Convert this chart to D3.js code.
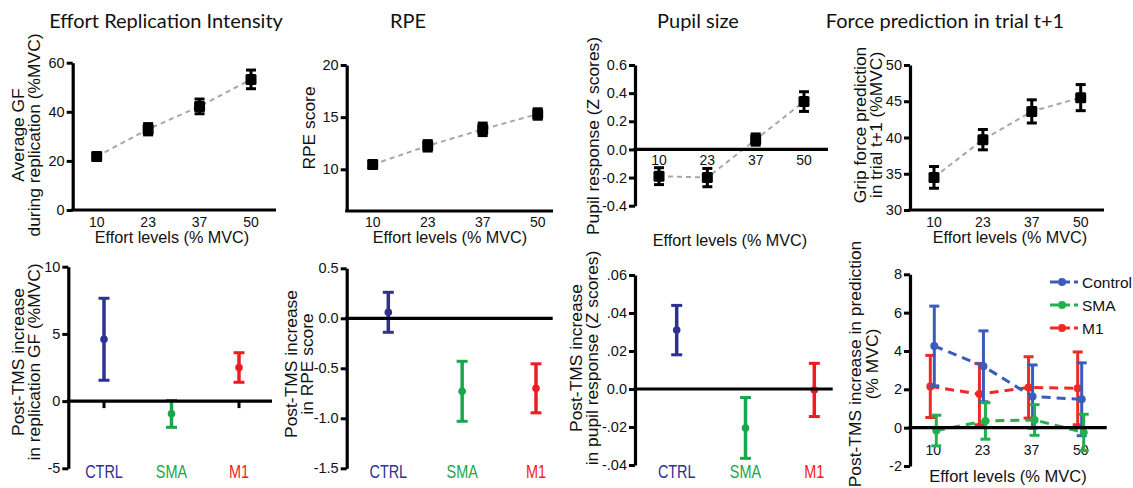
<!DOCTYPE html>
<html>
<head>
<meta charset="utf-8">
<script src="https://cdn.jsdelivr.net/npm/d3@7"></script>
<style>
  body { margin: 0; background: #fff; }
  svg text { font-family: "Liberation Sans", Arial, sans-serif; }
  svg text.title { font-family: Lato, "Open Sans", sans-serif; font-size: 20px; }
</style>
</head>
<body>
<svg id="chart" width="1133" height="488"></svg>
<script>
// effort levels (% MVC)
const effortLevels = ['10', '23', '37', '50'];

// top row: means and SEM
const replicationGF = [21.8, 32.9, 42.2, 53.2];
const replicationErr = [1.5, 2.3, 3.0, 3.8];
const rpeScore = [10.45, 12.25, 13.83, 15.3];
const rpeErr = [0.35, 0.5, 0.6, 0.5];
const pupilZ = [-0.19, -0.2, 0.07, 0.34];
const pupilErr = [0.06, 0.065, 0.04, 0.07];
const gripPred = [34.5, 39.7, 43.6, 45.5];
const gripErr = [1.5, 1.4, 1.6, 1.8];

// bottom row: post-TMS increase per group
const groups = ['CTRL', 'SMA', 'M1'];
const tmsGF = [4.6, -0.95, 2.5];
const tmsGFErr = [3.05, 1.0, 1.1];
const tmsRPE = [0.06, -0.73, -0.70];
const tmsRPEErr = [0.2, 0.3, 0.245];
const tmsPupil = [0.031, -0.0205, -0.0005];
const tmsPupilErr = [0.013, 0.016, 0.014];

// bottom right: prediction increase per effort level
const seriesNames = ['Control', 'SMA', 'M1'];
const predControl = [4.26, 3.2, 1.62, 1.48];
const predControlErr = [2.08, 1.85, 1.65, 1.9];
const predSMA = [-0.15, 0.35, 0.4, -0.25];
const predSMAErr = [0.8, 0.95, 0.8, 0.95];
const predM1 = [2.15, 1.75, 2.1, 2.05];
const predM1Err = [1.62, 1.6, 1.6, 1.9];

const titles = ['Effort Replication Intensity', 'RPE', 'Pupil size', 'Force prediction in trial t+1'];

const groupColors = ['#2e3192', '#1aa64b', '#ed1c24'];
const seriesColors = ['#3a5cbd', '#22b14c', '#ee2a24'];

const svg = d3.select('#chart');

// titles
const titleX = [166, 408, 698, 945];
svg.selectAll('text.title')
  .data(titles)
  .join('text')
    .attr('class', 'title')
    .attr('x', (d, i) => titleX[i])
    .attr('y', 28)
    .attr('text-anchor', 'middle')
    .attr('fill', '#111')
    .text(d => d);

function yAxisDraw(g, y, ticks, labels, x0) {
  const ax = g.append('g')
    .attr('transform', `translate(${x0},0)`)
    .call(d3.axisLeft(y).tickValues(ticks).tickSize(6).tickSizeOuter(0)
      .tickFormat((d, i) => labels[i]));
  ax.select('.domain').attr('stroke-width', 3.2).attr('stroke', '#000');
  ax.selectAll('.tick line').attr('stroke-width', 3).attr('stroke', '#000');
  ax.selectAll('.tick text').attr('font-size', 14.5).attr('fill', '#111').attr('x', -8);
  return ax;
}

function yLabel(lines, x, ycenter, size) {
  lines.forEach((t, i) => {
    svg.append('text')
      .attr('transform', `translate(${x[i]},${ycenter}) rotate(-90)`)
      .attr('text-anchor', 'middle')
      .attr('font-size', size || 17.4)
      .attr('fill', '#111')
      .text(t);
  });
}

function hLine(x1, x2, yv) {
  svg.append('line')
    .attr('x1', x1).attr('x2', x2)
    .attr('y1', yv).attr('y2', yv)
    .attr('stroke', '#000').attr('stroke-width', 3.2);
}

// ---------- top row ----------
function topPanel(cfg) {
  const g = svg.append('g');
  const x = d3.scalePoint().domain(effortLevels).range(cfg.xr);
  const y = d3.scaleLinear().domain(cfg.yd).range(cfg.yr);
  yAxisDraw(g, y, cfg.ticks, cfg.tickLabels, cfg.axisX);
  const baseY = y(cfg.baseline);
  hLine(cfg.axisX - 1.5, cfg.axisEnd, baseY);

  // tick labels on x
  g.selectAll('text.xt')
    .data(effortLevels)
    .join('text')
      .attr('x', d => x(d))
      .attr('y', cfg.xtY)
      .attr('text-anchor', 'middle')
      .attr('font-size', 14)
      .attr('fill', '#111')
      .text(d => d);

  const pts = effortLevels.map((d, i) => ({ k: d, v: cfg.vals[i], e: cfg.errs[i] }));

  g.append('path')
    .datum(pts)
    .attr('fill', 'none')
    .attr('stroke', '#a8a8a8')
    .attr('stroke-width', 2)
    .attr('stroke-dasharray', '5,4')
    .attr('d', d3.line().x(d => x(d.k)).y(d => y(d.v)));

  pts.forEach(p => {
    const cx = x(p.k);
    g.append('line').attr('x1', cx).attr('x2', cx)
      .attr('y1', y(p.v - p.e)).attr('y2', y(p.v + p.e))
      .attr('stroke', '#000').attr('stroke-width', 3);
    [p.v - p.e, p.v + p.e].forEach(c => {
      g.append('line').attr('x1', cx - 5).attr('x2', cx + 5)
        .attr('y1', y(c)).attr('y2', y(c))
        .attr('stroke', '#000').attr('stroke-width', 3);
    });
    g.append('rect')
      .attr('x', cx - 5.5).attr('y', y(p.v) - 5.5)
      .attr('width', 11).attr('height', 11)
      .attr('rx', 1.5)
      .attr('fill', '#000');
  });

  svg.append('text')
    .attr('x', cfg.xtitleX).attr('y', cfg.xtitleY)
    .attr('text-anchor', 'middle')
    .attr('font-size', 16.2)
    .attr('fill', '#111')
    .text('Effort levels (% MVC)');
}

topPanel({
  xr: [96.7, 251], yd: [0, 60], yr: [210, 62.7], axisX: 72.7, axisEnd: 276,
  ticks: [0, 20, 40, 60], tickLabels: ['0', '20', '40', '60'], baseline: 0,
  xtY: 227, xtitleX: 172, xtitleY: 243,
  vals: replicationGF, errs: replicationErr
});
yLabel(['Average GF', 'during replication (%MVC)'], [24, 40], 135);

topPanel({
  xr: [372.7, 537.7], yd: [6, 20], yr: [211, 65], axisX: 346.7, axisEnd: 553,
  ticks: [10, 15, 20], tickLabels: ['10', '15', '20'], baseline: 6,
  xtY: 227, xtitleX: 450, xtitleY: 243,
  vals: rpeScore, errs: rpeErr
});
yLabel(['RPE score'], [315], 128);

topPanel({
  xr: [659, 804], yd: [-0.4, 0.6], yr: [205.7, 65], axisX: 635, axisEnd: 828,
  ticks: [-0.4, -0.2, 0, 0.2, 0.4, 0.6], tickLabels: ['-0.4', '-0.2', '0.0', '0.2', '0.4', '0.6'], baseline: 0,
  xtY: 165, xtitleX: 730, xtitleY: 246,
  vals: pupilZ, errs: pupilErr
});
yLabel(['Pupil response (Z scores)'], [599], 136);

topPanel({
  xr: [934, 1080.7], yd: [30, 50], yr: [210, 65], axisX: 910, axisEnd: 1104,
  ticks: [30, 35, 40, 45, 50], tickLabels: ['30', '35', '40', '45', '50'], baseline: 30,
  xtY: 227, xtitleX: 1010, xtitleY: 243,
  vals: gripPred, errs: gripErr
});
yLabel(['Grip force prediction', 'in trial t+1 (%MVC)'], [866, 882], 125);

// ---------- bottom row, group panels ----------
function groupPanel(cfg) {
  const g = svg.append('g');
  const x = d3.scalePoint().domain(groups).range(cfg.xr);
  const y = d3.scaleLinear().domain(cfg.yd).range(cfg.yr);
  yAxisDraw(g, y, cfg.ticks, cfg.tickLabels, cfg.axisX);
  hLine(cfg.axisX - 1.5, cfg.axisEnd, y(0));

  if (cfg.downTicks) {
    groups.forEach(d => {
      g.append('line').attr('x1', x(d)).attr('x2', x(d))
        .attr('y1', y(0)).attr('y2', y(0) + 7)
        .attr('stroke', '#000').attr('stroke-width', 3);
    });
  }

  // condensed group labels
  g.selectAll('text.cat')
    .data(groups)
    .join('text')
      .attr('class', 'cat')
      .attr('transform', d => `translate(${x(d)},478) scale(0.78,1)`)
      .attr('text-anchor', 'middle')
      .attr('font-size', 18.5)
      .attr('fill', (d, i) => groupColors[i])
      .text(d => d);

  groups.forEach((d, i) => {
    const cx = x(d), v = cfg.vals[i], e = cfg.errs[i], c = groupColors[i];
    g.append('line').attr('x1', cx).attr('x2', cx)
      .attr('y1', y(v - e)).attr('y2', y(v + e))
      .attr('stroke', c).attr('stroke-width', 3.5);
    [v - e, v + e].forEach(t => {
      g.append('line').attr('x1', cx - 5.5).attr('x2', cx + 5.5)
        .attr('y1', y(t)).attr('y2', y(t))
        .attr('stroke', c).attr('stroke-width', 3);
    });
    g.append('circle').attr('cx', cx).attr('cy', y(v)).attr('r', 3.8).attr('fill', c);
  });
}

groupPanel({
  xr: [104, 239], yd: [-5, 10], yr: [468.3, 266.7], axisX: 68.3, axisEnd: 272,
  ticks: [-5, 0, 5, 10], tickLabels: ['-5', '0', '5', '10'], downTicks: true,
  vals: tmsGF, errs: tmsGFErr
});
yLabel(['Post-TMS increase', 'in replication GF (%MVC)'], [24, 40], 362);

groupPanel({
  xr: [388.3, 536], yd: [-1.5, 0.5], yr: [468.3, 268.3], axisX: 346.7, axisEnd: 552.7,
  ticks: [-1.5, -1, -0.5, 0, 0.5], tickLabels: ['-1.5', '-1.0', '-0.5', '0.0', '0.5'], downTicks: false,
  vals: tmsRPE, errs: tmsRPEErr
});
yLabel(['Post-TMS increase', 'in RPE score'], [297, 313], 364);

groupPanel({
  xr: [676.7, 814.3], yd: [-0.04, 0.06], yr: [465, 275], axisX: 635, axisEnd: 832.7,
  ticks: [-0.04, -0.02, 0, 0.02, 0.04, 0.06], tickLabels: ['-.04', '-.02', '0.0', '.02', '.04', '.06'], downTicks: false,
  vals: tmsPupil, errs: tmsPupilErr
});
yLabel(['Post-TMS increase', 'in pupil response (Z scores)'], [582, 598], 358);

// ---------- bottom right: prediction series ----------
(function () {
  const g = svg.append('g');
  const x = d3.scalePoint().domain(effortLevels).range([933.3, 1080.7]);
  const y = d3.scaleLinear().domain([-2, 8]).range([466, 274.3]);
  yAxisDraw(g, y, [-2, 0, 2, 4, 6, 8], ['-2', '0', '2', '4', '6', '8'], 910);
  hLine(908.5, 1106.7, y(0));

  g.selectAll('text.xt')
    .data(effortLevels)
    .join('text')
      .attr('x', d => x(d))
      .attr('y', 455)
      .attr('text-anchor', 'middle')
      .attr('font-size', 14)
      .attr('fill', '#111')
      .text(d => d);

  svg.append('text')
    .attr('x', 1008).attr('y', 482)
    .attr('text-anchor', 'middle')
    .attr('font-size', 16.5)
    .attr('fill', '#111')
    .text('Effort levels (% MVC)');

  const vals = [predControl, predSMA, predM1];
  const errs = [predControlErr, predSMAErr, predM1Err];
  const offs = [1, 3, -3];
  const order = [2, 0, 1];

  order.forEach(s => {
    const pts = effortLevels.map((d, i) => ({ x: x(d) + offs[s], v: vals[s][i], e: errs[s][i] }));
    g.append('path')
      .datum(pts)
      .attr('fill', 'none')
      .attr('stroke', seriesColors[s])
      .attr('stroke-width', 3)
      .attr('stroke-dasharray', '9,6')
      .attr('d', d3.line().x(d => d.x).y(d => y(d.v)));
    pts.forEach(p => {
      g.append('line').attr('x1', p.x).attr('x2', p.x)
        .attr('y1', y(p.v - p.e)).attr('y2', y(p.v + p.e))
        .attr('stroke', seriesColors[s]).attr('stroke-width', 3);
      [p.v - p.e, p.v + p.e].forEach(t => {
        g.append('line').attr('x1', p.x - 5).attr('x2', p.x + 5)
          .attr('y1', y(t)).attr('y2', y(t))
          .attr('stroke', seriesColors[s]).attr('stroke-width', 3);
      });
      g.append('circle').attr('cx', p.x).attr('cy', y(p.v)).attr('r', 4).attr('fill', seriesColors[s]);
    });
  });

  // legend
  const leg = svg.append('g').attr('transform', 'translate(1050,282)');
  seriesNames.forEach((n, i) => {
    const row = leg.append('g').attr('transform', `translate(0,${i * 23})`);
    row.append('line').attr('x1', 0).attr('x2', 28).attr('y1', 0).attr('y2', 0)
      .attr('stroke', seriesColors[i]).attr('stroke-width', 3).attr('stroke-dasharray', '8,4');
    row.append('circle').attr('cx', 12).attr('cy', 0).attr('r', 4).attr('fill', seriesColors[i]);
    row.append('text').attr('x', 32).attr('y', 5.5).attr('font-size', 15.5).attr('fill', '#111').text(n);
  });
})();
yLabel(['Post-TMS increase in prediction', '(% MVC)'], [861, 878], 364);
</script>
</body>
</html>
